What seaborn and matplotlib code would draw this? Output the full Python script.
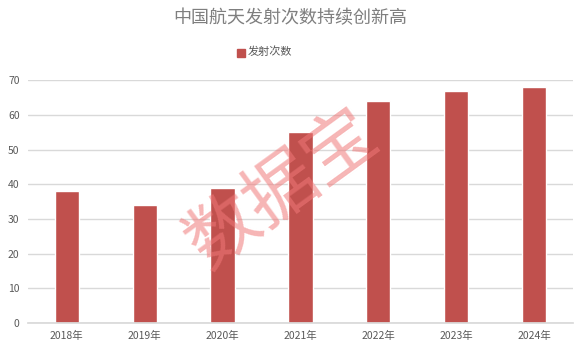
import matplotlib
matplotlib.use("Agg")
import matplotlib.pyplot as plt
import seaborn as sns
import pandas as pd
from matplotlib.patches import Rectangle

years = ["2018年", "2019年", "2020年", "2021年", "2022年", "2023年", "2024年"]
launches = [38, 34, 39, 55, 64, 67, 68]
series_name = "发射次数"
title = "中国航天发射次数持续创新高"

sns.set_theme(style="white")
plt.rcParams['font.family'] = ['Noto Sans CJK SC', 'DejaVu Sans']

df = pd.DataFrame({"year": years, "value": launches, "series": series_name})

fig = plt.figure(figsize=(5.8, 3.53), dpi=100)
ax = fig.add_axes([0.048, 0.085, 0.94, 0.688])
sns.barplot(data=df, x="year", y="value", hue="series", palette=["#c0504d"],
            width=0.31, ax=ax, legend=False, saturation=1)

ax.set_ylim(0, 70)
ax.set_yticks(range(0, 71, 10))
ax.set_xlim(-0.5, len(years) - 0.5)
ax.yaxis.grid(True, color="#d9d9d9", linewidth=1)
ax.set_axisbelow(True)
for s in ["left", "right", "top"]:
    ax.spines[s].set_visible(False)
ax.spines["bottom"].set_color("#d9d9d9")
ax.set_xlabel("")
ax.set_ylabel("")
ax.tick_params(axis="both", length=0, labelsize=7.5, colors="#595959", pad=6)

fig.text(0.5, 0.948, title, ha="center", va="center", fontsize=13, color="#7f7f7f")
# legend
fig.patches.append(Rectangle((237/580, 1 - 57/353), 8/580, 8/353,
                             transform=fig.transFigure, color="#c0504d"))
fig.text(248/580, 1 - 52/353, series_name, ha="left", va="center", fontsize=8, color="#595959")

# watermark
fig.text(282/580, 1 - 190/353, "数据宝", ha="center", va="center", fontsize=52,
         rotation=36, color="#f07878", alpha=0.55)

fig.savefig("out.png", dpi=100)
